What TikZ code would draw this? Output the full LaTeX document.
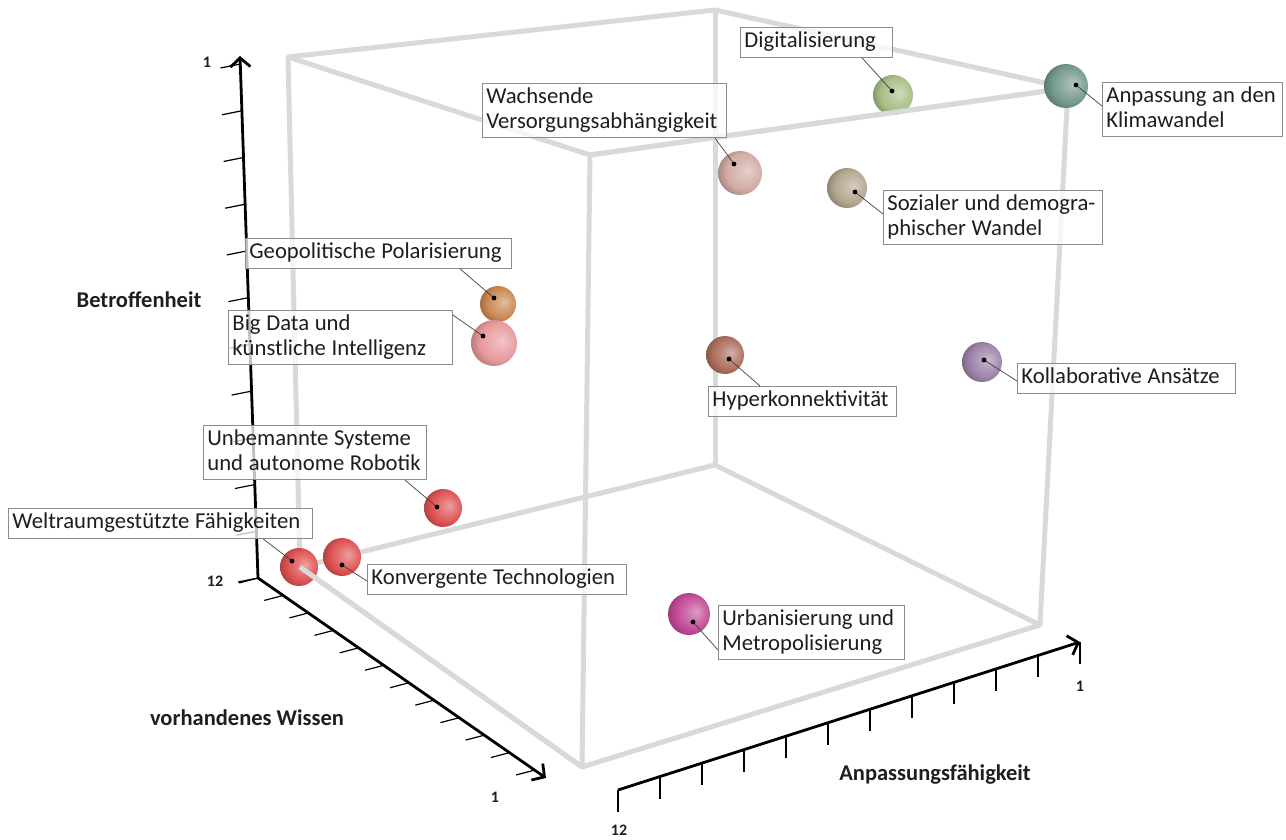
\documentclass[tikz,border=0pt]{standalone}
\usepackage{fontspec}
\setmainfont{Carlito}
\usetikzlibrary{arrows.meta,calc}
\makeatletter
\pgfdeclareradialshading[tikz@ball]{rball}{\pgfqpoint{9bp}{3bp}}{%
 color(0bp)=(tikz@ball!55!white);
 color(11bp)=(tikz@ball!80!white);
 color(21bp)=(tikz@ball);
 color(32bp)=(tikz@ball!72!black);
 color(50bp)=(tikz@ball!50!black)}
\makeatother
\definecolor{cubegray}{HTML}{D9D9D9}
\definecolor{boxgray}{HTML}{8C8C8C}
\definecolor{txt}{HTML}{1E1E1E}
\definecolor{cDig}{HTML}{A9BE86}
\definecolor{cKli}{HTML}{74998F}
\definecolor{cWach}{HTML}{D2ABA3}
\definecolor{cSoz}{HTML}{B4A68E}
\definecolor{cGeo}{HTML}{CB8852}
\definecolor{cBig}{HTML}{E8999D}
\definecolor{cHyp}{HTML}{AD6F5F}
\definecolor{cKol}{HTML}{9D83A9}
\definecolor{cRed}{HTML}{DE5252}
\definecolor{cUrb}{HTML}{C24B96}
\newcommand{\lblfont}{\fontsize{22.7}{24.3}\selectfont}
\newcommand{\ttlfont}{\fontsize{22.5}{24}\selectfont\bfseries}
\newcommand{\numfont}{\fontsize{16}{18}\selectfont\bfseries}
\newcommand{\topstrut}{\spaceskip=0.25em plus 0.02em\relax\xspaceskip=0.25em\relax\rule{0pt}{17pt}}
\newcommand{\botstrut}{\rule[-6pt]{0pt}{6pt}}
\begin{document}
\begin{tikzpicture}[x=1pt,y=-1pt,
  cube/.style={line width=5pt, draw=cubegray, line join=round},
  axis/.style={line width=2.8pt, draw=black, -{Straight Barb[length=9pt,width=20pt,line width=2.8pt]}},
  tickmark/.style={line width=1.2pt, draw=black},
  lbl/.style={draw=boxgray, line width=0.8pt, fill=white, fill opacity=0.75, text opacity=1,
    inner xsep=4pt, inner ysep=3.5pt, align=left, anchor=north west, font=\lblfont, text=txt,
    execute at begin node=\topstrut, execute at end node=\botstrut},
  sph/.style={circle, inner sep=0pt, minimum size=#1},
  leader/.style={draw=black!75, line width=0.7pt},
  dotc/.style={fill=black},
  ttl/.style={font=\ttlfont, text=txt},
  num/.style={font=\numfont, text=txt}]
\useasboundingbox (0,0) rectangle (1286,840);
% cube vertices
\coordinate (A) at (288,57);
\coordinate (B) at (715,10);
\coordinate (C) at (1068,88);
\coordinate (D) at (590,155);
\coordinate (E) at (300,567);
\coordinate (F) at (715,465);
\coordinate (G) at (1040,625);
\coordinate (H) at (582,767);
% cube edges
\draw[cube] (A) -- (B) -- (C) -- (D) -- cycle;
\draw[cube] (A) -- (E);
\draw[cube] (B) -- (F);
\draw[cube] (C) -- (G);
\draw[cube] (D) -- (H);
\draw[cube] (E) -- (F) -- (G) -- (H) -- cycle;
% axes
\coordinate (O) at (258,578);
\coordinate (Yt) at (240,56);
\coordinate (Y1) at (240.5,64);
\coordinate (Xt) at (546,778);
\coordinate (X1) at (535,770);
\coordinate (P0) at (618,790);
\coordinate (P1) at (1080,642);
\draw[axis] (O) -- (Yt);
\draw[axis] (O) -- (Xt);
\draw[axis] (P0) -- (P1);
\foreach \i in {0,...,11}{
  \draw[tickmark] ($(O)!\i/11!(Y1)$) -- ++(-20,4);
  \draw[tickmark] ($(O)!\i/11!(X1)$) -- ++(-19,5);
  \draw[tickmark] ($(P0)!\i/11!(P1)$) -- ++(0,22);
}
\node[num] (n1) at (207,62) {1};
\node[num] (n12) at (215,581) {12};
\node[num] (n1b) at (495,797) {1};
\node[num] (n12b) at (619,830) {12};
\node[num] (n1c) at (1080,686) {1};
\node[ttl] (tB) at (139,300) {Betroffenheit};
\node[ttl] (tW) at (247,718) {vorhandenes Wissen};
\node[ttl] (tA) at (935,775) {Anpassungsfähigkeit};
% spheres
\node[sph=40pt, ball color=cDig, shading=rball] (sDig) at (893,95) {};
\node[sph=44pt, ball color=cKli, shading=rball] (sKli) at (1066,86) {};
\node[sph=44pt, ball color=cWach, shading=rball] (sWach) at (740,173) {};
\node[sph=40pt, ball color=cSoz, shading=rball] (sSoz) at (847,188) {};
\node[sph=36pt, ball color=cGeo, shading=rball] (sGeo) at (498,304) {};
\node[sph=46pt, ball color=cBig, shading=rball] (sBig) at (494,343) {};
\node[sph=38pt, ball color=cHyp, shading=rball] (sHyp) at (725,355) {};
\node[sph=40pt, ball color=cKol, shading=rball] (sKol) at (982,362) {};
\node[sph=38pt, ball color=cRed, shading=rball] (sUnb) at (443,508) {};
\node[sph=38pt, ball color=cRed, shading=rball] (sKon) at (342,557) {};
\node[sph=38pt, ball color=cRed, shading=rball] (sWel) at (299,567) {};
\node[sph=42pt, ball color=cUrb, shading=rball] (sUrb) at (689,614) {};
% front edges over spheres
\draw[cube] (D) -- ($(D)!0.94!(C)$);
\draw[cube] (E) -- (H);
% label boxes
\node[lbl, text width=144pt] (lDig) at (740,27) {Digitalisierung};
\node[lbl, text width=172pt] (lKli) at (1102,82) {Anpassung an den\\Klimawandel};
\node[lbl, text width=236pt] (lWach) at (482,83) {Wachsende\\Versorgungsabhängigkeit};
\node[lbl, text width=211pt] (lSoz) at (883,190) {Sozialer und demogra-\\phischer Wandel};
\node[lbl, text width=258pt] (lGeo) at (245,238) {Geopolitische Polarisierung};
\node[lbl, text width=216pt] (lBig) at (228,310) {Big Data und\\künstliche Intelligenz};
\node[lbl, text width=180pt] (lHyp) at (708,386) {Hyperkonnektivität};
\node[lbl, text width=210pt] (lKol) at (1017,363) {Kollaborative Ansätze};
\node[lbl, text width=215pt] (lUnb) at (203,425) {Unbemannte Systeme\\und autonome Robotik};
\node[lbl, text width=296pt] (lWel) at (8,508) {Weltraumgestützte Fähigkeiten};
\node[lbl, text width=251pt] (lKon) at (367,564) {Konvergente Technologien};
\node[lbl, text width=178pt] (lUrb) at (718,605) {Urbanisierung und\\Metropolisierung};
% dots
\coordinate (dDig) at (892,91);
\coordinate (dKli) at (1076,85);
\coordinate (dWach) at (734,164);
\coordinate (dSoz) at (855,192);
\coordinate (dGeo) at (494,298);
\coordinate (dBig) at (483,336);
\coordinate (dHyp) at (729,359);
\coordinate (dKol) at (984,360);
\coordinate (dUnb) at (437,507);
\coordinate (dWel) at (292,561);
\coordinate (dKon) at (342,565);
\coordinate (dUrb) at (693,622);
% leaders
\draw[leader] (dDig) -- ([xshift=122pt]lDig.south west);
\draw[leader] (dKli) -- ([yshift=-24pt]lKli.north west);
\draw[leader] (dWach) -- ([xshift=233pt]lWach.south west);
\draw[leader] (dSoz) -- ([yshift=-24pt]lSoz.north west);
\draw[leader] (dGeo) -- ([xshift=215pt]lGeo.south west);
\draw[leader] (dBig) -- ([yshift=-5pt]lBig.north east);
\draw[leader] (dHyp) -- ([xshift=52pt]lHyp.north west);
\draw[leader] (dKol) -- ([yshift=-18pt]lKol.north west);
\draw[leader] (dUnb) -- ([xshift=202pt]lUnb.south west);
\draw[leader] (dWel) -- ([xshift=255pt]lWel.south west);
\draw[leader] (dKon) -- ([yshift=-17pt]lKon.north west);
\draw[leader] (dUrb) -- ([yshift=-45pt]lUrb.north west);
\foreach \d in {dDig,dKli,dWach,dSoz,dGeo,dBig,dHyp,dKol,dUnb,dWel,dKon,dUrb}
  \fill[dotc] (\d) circle (2.4pt);
\end{tikzpicture}
\end{document}
